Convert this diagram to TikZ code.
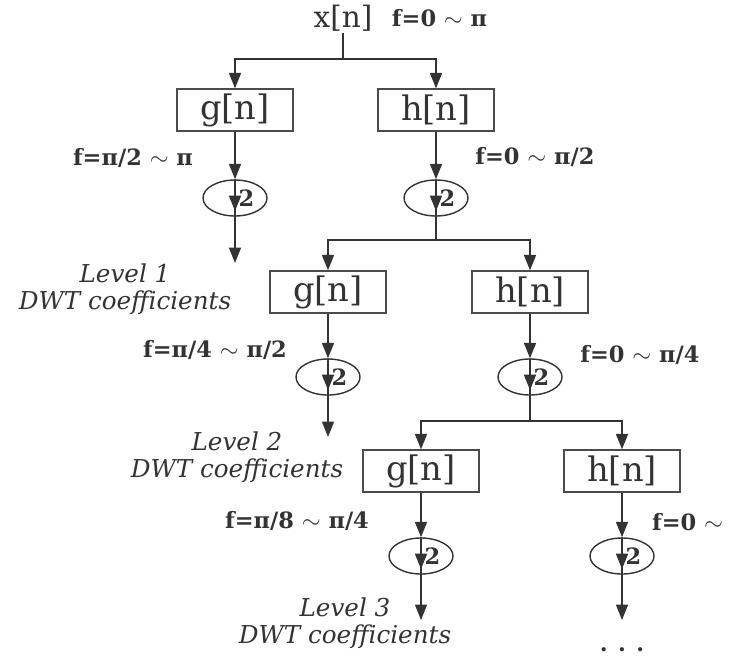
\documentclass[tikz,border=0pt]{standalone}
\usepackage{fontspec}
\setmainfont{DejaVu Serif}
\usetikzlibrary{arrows.meta,shapes.geometric,calc}
\tikzset{
  sig/.style ={font=\fontsize{21}{23}\selectfont, text=black!80, inner sep=1pt},
  filt/.style={draw=black!70, line width=0.9pt, minimum width=29mm, minimum height=10.5mm, inner sep=0pt, text=black!80, font=\fontsize{24}{26}\selectfont},
  dwn/.style ={draw=black!80, ellipse, line width=1pt, minimum width=16mm, minimum height=9mm, inner sep=0pt, text=black!80, font=\fontsize{16}{18}\selectfont\bfseries},
  arr/.style ={-{Triangle[length=11pt,width=8.5pt]}, line width=1.3pt, draw=black!80},
  ln/.style  ={line width=1.3pt, draw=black!80},
  frq/.style ={font=\fontsize{16}{18}\selectfont\bfseries, text=black!80},
  lvl/.style ={font=\fontsize{17.5}{19}\selectfont\itshape, align=center, text=black!80},
}
\newcommand{\dtwo}{\phantom{2}\hspace{5pt}2}
\begin{document}
\begin{tikzpicture}[x=0.025cm,y=-0.025cm]
  \path[use as bounding box, fill=white] (0,0) rectangle (730,658);
  % input signal
  \node[sig] (xn) at (343,18) {x[n]};
  \node[frq, anchor=west] (f0) at (387,18) {f=0 $\sim$ π};
  \coordinate (s1) at (343,59);
  % level 1
  \node[filt] (g1) at (235,110) {g[n]};
  \node[filt] (h1) at (436,110) {h[n]};
  \node[dwn] (dg1) at (235,198) {\dtwo};
  \node[dwn] (dh1) at (436,198) {\dtwo};
  \coordinate (og1) at (235,263);
  \coordinate (s2) at (436,240);
  \node[frq] (fg1) at (133,158) {f=π/2 $\sim$ π};
  \node[frq] (fh1) at (535,157) {f=0 $\sim$ π/2};
  \node[lvl] (lv1) at (125,289) {Level 1\\DWT coefficients};
  \draw[ln] (xn) -- (s1);
  \draw[arr] (s1) -| (g1);
  \draw[arr] (s1) -| (h1);
  \draw[arr] (g1) -- (dg1);
  \draw[arr] (h1) -- (dh1);
  \draw[arr] (dg1.north) -- ($(dg1.north)!0.85!(dg1.south)$);
  \draw[arr] (dh1.north) -- ($(dh1.north)!0.85!(dh1.south)$);
  \draw[arr] (dg1.center) -- (og1);
  \draw[ln] (dh1.center) -- (s2);
  % level 2
  \node[filt] (g2) at (328,292) {g[n]};
  \node[filt] (h2) at (530,292) {h[n]};
  \node[dwn] (dg2) at (328,377) {\dtwo};
  \node[dwn] (dh2) at (530,377) {\dtwo};
  \coordinate (og2) at (328,437);
  \coordinate (s3) at (530,421);
  \node[frq] (fg2) at (215,350) {f=π/4 $\sim$ π/2};
  \node[frq] (fh2) at (640,355) {f=0 $\sim$ π/4};
  \node[lvl] (lv2) at (237,457) {Level 2\\DWT coefficients};
  \draw[arr] (s2) -| (g2);
  \draw[arr] (s2) -| (h2);
  \draw[arr] (g2) -- (dg2);
  \draw[arr] (h2) -- (dh2);
  \draw[arr] (dg2.north) -- ($(dg2.north)!0.85!(dg2.south)$);
  \draw[arr] (dh2.north) -- ($(dh2.north)!0.85!(dh2.south)$);
  \draw[arr] (dg2.center) -- (og2);
  \draw[ln] (dh2.center) -- (s3);
  % level 3
  \node[filt] (g3) at (421,471) {g[n]};
  \node[filt] (h3) at (622,471) {h[n]};
  \node[dwn] (dg3) at (421,556) {\dtwo};
  \node[dwn] (dh3) at (622,556) {\dtwo};
  \coordinate (og3) at (421,620);
  \coordinate (oh3) at (622,620);
  \node[frq] (fg3) at (297,521) {f=π/8 $\sim$ π/4};
  \node[frq, anchor=east] (fh3) at (728,522) {f=0 $\sim$};
  \node[lvl] (lv3) at (345,623) {Level 3\\DWT coefficients};
  \node[frq] (dots) at (622,650) {. . .};
  \draw[arr] (s3) -| (g3);
  \draw[arr] (s3) -| (h3);
  \draw[arr] (g3) -- (dg3);
  \draw[arr] (h3) -- (dh3);
  \draw[arr] (dg3.north) -- ($(dg3.north)!0.85!(dg3.south)$);
  \draw[arr] (dh3.north) -- ($(dh3.north)!0.85!(dh3.south)$);
  \draw[arr] (dg3.center) -- (og3);
  \draw[arr] (dh3.center) -- (oh3);
\end{tikzpicture}
\end{document}
